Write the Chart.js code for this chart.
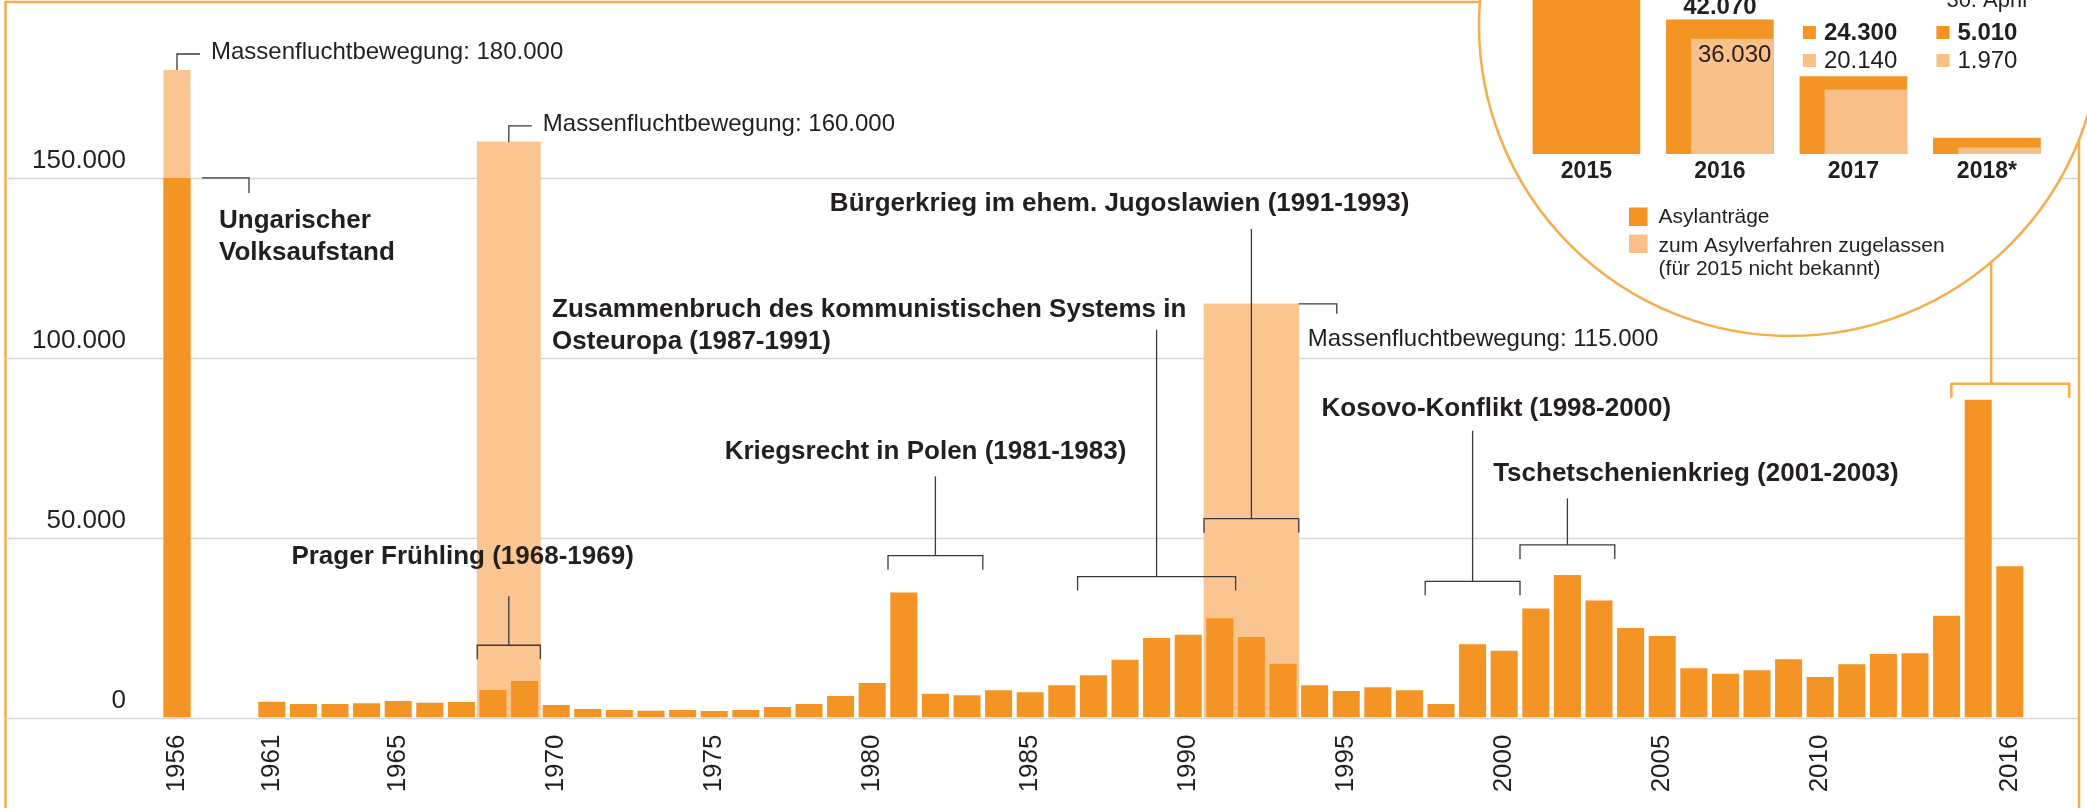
<!DOCTYPE html>
<html lang="de">
<head>
<meta charset="utf-8">
<title>Asylanträge in Österreich 1956-2016</title>
<script src="https://cdn.jsdelivr.net/npm/chart.js@4.4.1/dist/chart.umd.min.js"></script>
<style>
  html, body { margin: 0; padding: 0; background: #fff; overflow: hidden; }
  #wrap { position: relative; width: 2087px; height: 808px; }
  #mainChart { position: absolute; left: 0; top: 0; }
  #insetChart { position: absolute; left: 1440px; top: 0; }
</style>
</head>
<body>
<div id="wrap">
  <canvas id="mainChart" width="2087" height="808"></canvas>
  <canvas id="insetChart" width="647" height="360"></canvas>
</div>
<script>
// years 1957-1960 are squeezed into two empty slots in the original
const categories = ['1956', '', '',
  '1961', '1962', '1963', '1964', '1965', '1966', '1967', '1968', '1969', '1970',
  '1971', '1972', '1973', '1974', '1975', '1976', '1977', '1978', '1979', '1980',
  '1981', '1982', '1983', '1984', '1985', '1986', '1987', '1988', '1989', '1990',
  '1991', '1992', '1993', '1994', '1995', '1996', '1997', '1998', '1999', '2000',
  '2001', '2002', '2003', '2004', '2005', '2006', '2007', '2008', '2009', '2010',
  '2011', '2012', '2013', '2014', '2015', '2016'];
const tickYears = ['1956', '1961', '1965', '1970', '1975', '1980', '1985', '1990', '1995', '2000', '2005', '2010', '2016'];
const yTicks = [0, 50000, 100000, 150000];
const applications = [150000, null, null,
  4400, 3750, 3750, 3950, 4580, 4100, 4300, 7640, 10140, 3470,
  2360, 2080, 1900, 2080, 1800, 2080, 2920, 3750, 5970, 9580,
  34780, 6610, 6170, 7560, 7000, 8950, 11720, 16060, 22080, 23000,
  27560, 22360, 14950, 8950, 7360, 8390, 7560, 3750, 20330, 18560,
  30330, 39580, 32550, 24860, 22640, 13660, 12170, 13110, 16170, 11250,
  14780, 17640, 17830, 28280, 88340, 42070];

const exodusPeriods = [['1956', '1956'], ['1968', '1969'], ['1991', '1993']];
const exodusValues = [180000, 160000, 115000];

const eventTitles = [
  ['Ungarischer', 'Volksaufstand'],
  ['Prager Frühling (1968-1969)'],
  ['Kriegsrecht in Polen (1981-1983)'],
  ['Zusammenbruch des kommunistischen Systems in', 'Osteuropa (1987-1991)'],
  ['Bürgerkrieg im ehem. Jugoslawien (1991-1993)'],
  ['Kosovo-Konflikt (1998-2000)'],
  ['Tschetschenienkrieg (2001-2003)']
];
const eventPeriods = [['1956', '1956'], ['1968', '1969'], ['1981', '1983'], ['1987', '1991'], ['1991', '1993'], ['1998', '2000'], ['2001', '2003']];

const insetYears = ['2015', '2016', '2017', '2018*'];
const insetApplications = [88340, 42070, 24300, 5010];
const insetAdmitted = [null, 36030, 20140, 1970];
const insetNote = '30. April';
const legendLabels = ['Asylanträge', 'zum Asylverfahren zugelassen', '(für 2015 nicht bekannt)'];

const DARK = '#f39424';
const LIGHT = '#fbc592';
const LIGHT_INSET = '#f9c089';
const FRAME = '#f6ad4c';
const INK = '#231f20';
const LINE = '#3a3a3a';
const GRID = '#d5d5d5';
const FONT = "'Liberation Sans', Arial, Helvetica, sans-serif";

Chart.defaults.font.family = FONT;
Chart.defaults.color = INK;

const fmt = v => String(v).replace(/\B(?=(\d{3})+(?!\d))/g, '.');

// callout placement (x as category position, y as axis value)
const exodusLayout = ['above', 'above', 'right'];
const eventLayout = [
  { kind: 'corner', lineY: 150000, textIdx: 1.33, textY: 138060 },
  { bracketY: 20080, stemTop: 33690, textIdx: 3.62, textY: 44720 },
  { bracketY: 45000, stemTop: 67030, textIdx: 17.33, textY: 73970 },
  { bracketY: 39170, stemTop: 107780, textIdx: 11.87, textY: 113330 },
  { bracketY: 55280, stemTop: 135830, textIdx: 20.66, textY: 142780 },
  { bracketY: 37860, stemTop: 79720, textIdx: 36.22, textY: 85830 },
  { bracketY: 47970, stemTop: 60920, textIdx: 41.65, textY: 67780 }
];
const insetLink = { left: 56.15, right: 59.88, stem: 57.41, y: 92780 };
const circle = { x: 350, y: 25, r: 311 };

function exodusSeries(multiYear) {
  const out = categories.map(() => null);
  exodusPeriods.forEach(([from, to], i) => {
    if ((from !== to) !== multiYear) return;
    for (let k = categories.indexOf(from); k <= categories.indexOf(to); k++) out[k] = exodusValues[i];
  });
  return out;
}

function line(ctx, pts, color, width) {
  ctx.save();
  ctx.beginPath();
  ctx.strokeStyle = color;
  ctx.lineWidth = width;
  pts.forEach(([px, py], i) => i ? ctx.lineTo(px, py) : ctx.moveTo(px, py));
  ctx.stroke();
  ctx.restore();
}

function write(ctx, lines, x, y, bold, size, align, baseline, gap) {
  ctx.save();
  ctx.font = (bold ? 'bold ' : '') + size + 'px ' + FONT;
  ctx.fillStyle = INK;
  ctx.textAlign = align || 'left';
  ctx.textBaseline = baseline || 'middle';
  lines.forEach((t, i) => ctx.fillText(t, x, y + i * (gap || 32)));
  ctx.restore();
}

const backdrop = {
  id: 'backdrop',
  beforeDraw(chart) {
    const { ctx, width, height } = chart;
    ctx.save();
    ctx.fillStyle = '#fff';
    ctx.fillRect(0, 0, width, height);
    ctx.restore();
    line(ctx, [[5.5, height], [5.5, 2], [width, 2]], FRAME, 2.5);
    line(ctx, [[2079, 0], [2079, height]], FRAME, 2.5);
  },
  beforeDatasetsDraw(chart) {
    const y = chart.scales.y;
    yTicks.forEach(v => {
      const py = Math.round(y.getPixelForValue(v)) + 0.5;
      line(chart.ctx, [[5.5, py], [2078, py]], GRID, 1.6);
    });
  }
};

const callouts = {
  id: 'callouts',
  afterDatasetsDraw(chart) {
    const { ctx, scales: { x, y } } = chart;
    const slot = x.getPixelForValue(1) - x.getPixelForValue(0);
    const cx = year => x.getPixelForValue(categories.indexOf(year));

    exodusPeriods.forEach(([from, to], i) => {
      const top = y.getPixelForValue(exodusValues[i]);
      const text = ['Massenfluchtbewegung: ' + fmt(exodusValues[i])];
      if (exodusLayout[i] === 'above') {
        const mid = (cx(from) + cx(to)) / 2;
        line(ctx, [[mid, top], [mid, top - 16], [mid + 23, top - 16]], LINE, 1.3);
        write(ctx, text, mid + 34, top - 18, false, 24);
      } else {
        const right = cx(to) + slot / 2;
        line(ctx, [[right, top], [right + 38, top], [right + 38, top + 10]], LINE, 1.3);
        write(ctx, text, right + 9, top + 36, false, 24);
      }
    });

    eventPeriods.forEach(([from, to], i) => {
      const L = eventLayout[i];
      if (L.kind === 'corner') {
        const c = cx(from), ly = y.getPixelForValue(L.lineY);
        line(ctx, [[c + 25, ly], [c + 72, ly], [c + 72, ly + 15]], LINE, 1.3);
      } else {
        const x1 = cx(from) - slot / 2, x2 = cx(to) + slot / 2;
        const by = y.getPixelForValue(L.bracketY), mid = (x1 + x2) / 2;
        line(ctx, [[x1, by + 14], [x1, by], [x2, by], [x2, by + 14]], LINE, 1.3);
        line(ctx, [[mid, by], [mid, y.getPixelForValue(L.stemTop)]], LINE, 1.3);
      }
      write(ctx, eventTitles[i], x.getPixelForValue(L.textIdx), y.getPixelForValue(L.textY), true, 26);
    });

    // link from 2015/2016 up to the round inset
    const ly = y.getPixelForValue(insetLink.y);
    const l1 = x.getPixelForValue(insetLink.left), l2 = x.getPixelForValue(insetLink.right);
    const ls = x.getPixelForValue(insetLink.stem);
    line(ctx, [[l1, ly + 14], [l1, ly], [l2, ly], [l2, ly + 14]], FRAME, 2.5);
    line(ctx, [[ls, ly], [ls, y.getPixelForValue(140000)]], FRAME, 2.5);
  }
};

new Chart(document.getElementById('mainChart'), {
  type: 'bar',
  data: {
    labels: categories,
    datasets: [
      { label: 'Asylanträge', data: applications, backgroundColor: DARK, barPercentage: 0.855, categoryPercentage: 1, grouped: false, order: 0 },
      { label: 'Massenfluchtbewegung', data: exodusSeries(false), backgroundColor: LIGHT, barPercentage: 0.855, categoryPercentage: 1, grouped: false, order: 1 },
      { label: 'Massenfluchtbewegung', data: exodusSeries(true), backgroundColor: LIGHT, barPercentage: 1, categoryPercentage: 1, grouped: false, order: 2 }
    ]
  },
  options: {
    responsive: false,
    animation: false,
    devicePixelRatio: 1,
    events: [],
    layout: { padding: { left: 0, right: 61.4, top: 70, bottom: 0 } },
    plugins: { legend: { display: false }, tooltip: { enabled: false } },
    scales: {
      x: {
        grid: { display: false, drawTicks: false },
        border: { display: false },
        ticks: {
          autoSkip: false, minRotation: 90, maxRotation: 90, padding: 17,
          font: { size: 26 }, color: INK,
          callback: (v, i) => tickYears.includes(categories[i]) ? categories[i] : ''
        },
        afterFit: s => { s.height = 90.5; }
      },
      y: {
        min: 0, max: 180000,
        grid: { display: false, drawTicks: false },
        border: { display: false },
        afterBuildTicks: s => { s.ticks = yTicks.map(v => ({ value: v })); },
        ticks: {
          padding: 35.2, labelOffset: -17,
          font: { size: 26 }, color: INK,
          callback: v => fmt(v)
        },
        afterFit: s => { s.width = 161.2; }
      }
    }
  },
  plugins: [backdrop, callouts]
});

const insetDecor = {
  id: 'insetDecor',
  beforeDraw(chart) {
    const ctx = chart.ctx;
    ctx.save();
    ctx.beginPath();
    ctx.arc(circle.x, circle.y, circle.r, 0, Math.PI * 2);
    ctx.fillStyle = '#fff';
    ctx.fill();
    ctx.lineWidth = 2.5;
    ctx.strokeStyle = FRAME;
    ctx.stroke();
    ctx.restore();
  },
  afterDraw(chart) {
    const { ctx, scales: { x, xAdmitted, y } } = chart;
    const half = 107 / 2, halfLight = 82 / 2;

    write(ctx, [fmt(insetApplications[1])], x.getPixelForValue(1), y.getPixelForValue(insetApplications[1]) - 6, true, 24, 'center', 'alphabetic');
    write(ctx, [fmt(insetAdmitted[1])], xAdmitted.getPixelForValue(1) + halfLight - 2, y.getPixelForValue(insetAdmitted[1]) + 16, false, 24, 'right');

    [2, 3].forEach(i => {
      const left = x.getPixelForValue(i) - half + 3;
      ctx.fillStyle = DARK;
      ctx.fillRect(left, 26, 13, 13);
      ctx.fillStyle = LIGHT_INSET;
      ctx.fillRect(left, 54, 13, 13);
      write(ctx, [fmt(insetApplications[i])], left + 21, 33, true, 24);
      write(ctx, [fmt(insetAdmitted[i])], left + 21, 61.5, false, 24);
    });
    write(ctx, [insetNote], x.getPixelForValue(3) - half + 13, 7, false, 22, 'left', 'alphabetic');

    ctx.fillStyle = DARK;
    ctx.fillRect(189, 207.5, 18.5, 18.5);
    ctx.fillStyle = LIGHT_INSET;
    ctx.fillRect(189, 234.5, 18.5, 18.5);
    write(ctx, [legendLabels[0]], 218.6, 217, false, 21);
    write(ctx, legendLabels.slice(1), 218.6, 246, false, 21, 'left', 'middle', 23.5);
  }
};

// keep the inset plot area exactly where the layout padding puts it
const noPad = s => { s.paddingLeft = 0; s.paddingRight = 0; s.paddingTop = 0; s.paddingBottom = 0; };

new Chart(document.getElementById('insetChart'), {
  type: 'bar',
  data: {
    datasets: [
      { label: legendLabels[1], data: insetAdmitted.map((v, i) => ({ x: i, y: v })), xAxisID: 'xAdmitted', backgroundColor: LIGHT_INSET, barThickness: 82, grouped: false, order: 0 },
      { label: legendLabels[0], data: insetApplications.map((v, i) => ({ x: i, y: v })), xAxisID: 'x', backgroundColor: DARK, barThickness: 107, grouped: false, order: 1 }
    ]
  },
  options: {
    responsive: false,
    animation: false,
    devicePixelRatio: 1,
    events: [],
    layout: { padding: { left: 79.65, right: 33.35, top: 0, bottom: 0 } },
    plugins: { legend: { display: false }, tooltip: { enabled: false } },
    scales: {
      x: {
        type: 'linear', min: -0.5, max: 3.5, offset: false, bounds: 'data',
        grid: { display: false, drawTicks: false },
        border: { display: false },
        afterBuildTicks: s => { s.ticks = insetYears.map((_, i) => ({ value: i })); },
        ticks: { autoSkip: false, maxRotation: 0, padding: 4.2, font: { size: 23, weight: 'bold' }, color: INK, callback: v => insetYears[v] },
        afterFit: s => { s.height = 206; noPad(s); }
      },
      // same slots, shifted so the admitted bar sits flush right in the total bar
      xAdmitted: { type: 'linear', display: false, offset: false, bounds: 'data', min: -0.5936, max: 3.4064, afterFit: noPad },
      y: { display: false, min: 0, max: 48300, afterFit: noPad }
    }
  },
  plugins: [insetDecor]
});
</script>
</body>
</html>
